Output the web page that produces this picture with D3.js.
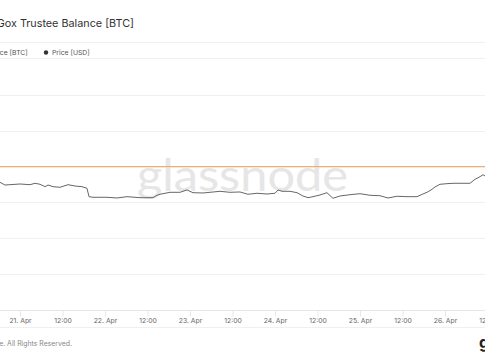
<!DOCTYPE html>
<html lang="en">
<head>
  <meta charset="UTF-8" />
  <title>Mt. Gox Trustee Balance [BTC]</title>
  <script src="https://d3js.org/d3.v7.min.js"></script>
  <style>
    body, html {
      margin: 0;
      padding: 0;
      background: #fff;
    }
    #chart {
      display: block;
      font-family: Inter, "Noto Sans", sans-serif;
    }
  </style>
</head>
<body>
  <svg id="chart" width="485" height="360"></svg>
  <script>
    // Price [USD] (UTC timestamps)
    const priceTimes = [
      '2023-04-20T18:20', '2023-04-20T19:45', '2023-04-20T21:10', '2023-04-21T00:00',
      '2023-04-21T02:50', '2023-04-21T04:15', '2023-04-21T05:40', '2023-04-21T07:05',
      '2023-04-21T07:55', '2023-04-21T09:20', '2023-04-21T11:18', '2023-04-21T13:33',
      '2023-04-21T15:32', '2023-04-21T17:30', '2023-04-21T18:55', '2023-04-21T19:29',
      '2023-04-21T20:37', '2023-04-22T00:34', '2023-04-22T03:23', '2023-04-22T06:12',
      '2023-04-22T09:53', '2023-04-22T13:33', '2023-04-22T14:41', '2023-04-22T15:32',
      '2023-04-22T18:21', '2023-04-22T21:10', '2023-04-22T23:09', '2023-04-23T00:51',
      '2023-04-23T03:40', '2023-04-23T08:28', '2023-04-23T11:17', '2023-04-23T14:07',
      '2023-04-23T16:22', '2023-04-23T18:55', '2023-04-23T21:44', '2023-04-24T00:00',
      '2023-04-24T00:51', '2023-04-24T01:59', '2023-04-24T04:14', '2023-04-24T06:13',
      '2023-04-24T07:54', '2023-04-24T09:19', '2023-04-24T10:44', '2023-04-24T12:42',
      '2023-04-24T14:40', '2023-04-24T16:22', '2023-04-24T18:21', '2023-04-24T21:10',
      '2023-04-25T00:00', '2023-04-25T02:49', '2023-04-25T05:38', '2023-04-25T07:54',
      '2023-04-25T10:26', '2023-04-25T13:16', '2023-04-25T16:05', '2023-04-25T17:47',
      '2023-04-25T18:55', '2023-04-25T20:20', '2023-04-25T21:10', '2023-04-25T22:35',
      '2023-04-26T00:33', '2023-04-26T02:15', '2023-04-26T05:04', '2023-04-26T07:03',
      '2023-04-26T08:28', '2023-04-26T09:53', '2023-04-26T10:44', '2023-04-26T11:18'
    ];
    const priceValues = [
      28562, 28486, 28495, 28514, 28495, 28534, 28506, 28439,
      28486, 28439, 28422, 28495, 28458, 28439, 28394, 28160,
      28143, 28143, 28123, 28160, 28132, 28132, 28199, 28227,
      28282, 28282, 28347, 28271, 28263, 28310, 28282, 28291,
      28227, 28255, 28235, 28255, 28347, 28310, 28310, 28271,
      28179, 28132, 28160, 28207, 28271, 28115, 28179, 28215,
      28243, 28199, 28187, 28123, 28171, 28160, 28160, 28235,
      28282, 28366, 28430, 28506, 28523, 28534, 28534, 28534,
      28646, 28718, 28774, 28738
    ];

    // Mt. Gox Trustee Balance [BTC] - flat over the whole window
    const balanceTimes = [
      '2023-04-20T12:00', '2023-04-21T00:00', '2023-04-22T00:00', '2023-04-23T00:00',
      '2023-04-24T00:00', '2023-04-25T00:00', '2023-04-26T00:00', '2023-04-26T12:00'
    ];
    const balanceValues = [141686, 141686, 141686, 141686, 141686, 141686, 141686, 141686];

    const legendLabels = ['Mt. Gox Trustee Balance [BTC]', 'Price [USD]'];
    const legendColors = ['#f5a45c', '#333'];

    const width = 485, height = 360;
    const plotTop = 95, plotBottom = 309.8;

    const parse = s => new Date(s + ':00Z');
    const price = priceTimes.map((t, i) => ({ date: parse(t), value: priceValues[i] }));
    const balance = balanceTimes.map((t, i) => ({ date: parse(t), value: balanceValues[i] }));

    const svg = d3.select('#chart');

    // Time scale: 21 Apr at x=20, 26 Apr at x=445 (chart is cropped on both sides)
    const x = d3.scaleUtc()
      .domain([parse('2023-04-21T00:00'), parse('2023-04-26T00:00')])
      .range([20, 445]);

    const yPrice = d3.scaleLinear().domain([25000, 31000]).range([plotBottom, plotTop]);
    const yBtc = d3.scaleLinear().domain([141486, 141786]).range([plotBottom, plotTop]);

    // Title (left part cropped)
    svg.append('text')
      .attr('x', 134)
      .attr('y', 27)
      .attr('text-anchor', 'end')
      .attr('font-size', 10.8)
      .attr('fill', '#333')
      .text(legendLabels[0]);

    // Legend band
    svg.append('line').attr('x1', 0).attr('x2', width).attr('y1', 42.5).attr('y2', 42.5)
      .attr('stroke', '#f0f0f0');
    svg.append('line').attr('x1', 0).attr('x2', width).attr('y1', 58.5).attr('y2', 58.5)
      .attr('stroke', '#f0f0f0');

    const legendX = [-80, 43];
    const legend = svg.append('g').selectAll('g')
      .data(legendLabels)
      .enter().append('g')
      .attr('transform', (d, i) => `translate(${legendX[i]},52.5)`);
    legend.append('circle')
      .attr('cx', 3).attr('cy', 0).attr('r', 2.2)
      .attr('fill', (d, i) => legendColors[i]);
    legend.append('text')
      .attr('x', 9).attr('y', 2.4)
      .attr('font-size', 6.8)
      .attr('fill', '#555')
      .text(d => d);

    // Gridlines from the price scale
    svg.append('g').selectAll('line')
      .data(yPrice.ticks(6))
      .enter().append('line')
      .attr('x1', 0).attr('x2', width)
      .attr('y1', d => Math.round(yPrice(d)) + 0.5)
      .attr('y2', d => Math.round(yPrice(d)) + 0.5)
      .attr('stroke', '#f0f0f0');

    // Watermark
    svg.append('text')
      .attr('x', 137)
      .attr('y', 191)
      .attr('font-size', 45)
      .attr('font-family', 'Lato, "Open Sans", sans-serif')
      .attr('font-weight', 400)
      .attr('fill', '#e6e6e6')
      .attr('textLength', 211)
      .attr('lengthAdjust', 'spacingAndGlyphs')
      .text('glassnode');

    // X axis
    const tickDates = d3.utcHour.every(12).range(x.invert(0), x.invert(500));
    const fmtDay = d3.utcFormat('%-d. %b');
    const fmtHour = d3.utcFormat('%H:%M');
    const xAxis = d3.axisBottom(x)
      .tickValues(tickDates)
      .tickSize(6)
      .tickPadding(2)
      .tickFormat(d => d.getUTCHours() === 0 ? fmtDay(d) : fmtHour(d));

    const axisG = svg.append('g')
      .attr('transform', `translate(0,${Math.round(plotBottom) + 0.5})`)
      .call(xAxis);
    axisG.select('.domain').remove();
    axisG.selectAll('.tick line').attr('stroke', '#e6e6e6');
    axisG.selectAll('.tick text')
      .attr('fill', '#666')
      .attr('font-size', 6.8)
      .attr('font-family', 'Inter, sans-serif');

    svg.append('line').attr('x1', 0).attr('x2', width)
      .attr('y1', Math.round(plotBottom) + 0.5).attr('y2', Math.round(plotBottom) + 0.5)
      .attr('stroke', '#e6e6e6');
    svg.append('line').attr('x1', 0).attr('x2', width).attr('y1', 327.5).attr('y2', 327.5)
      .attr('stroke', '#f0f0f0');

    // Series
    svg.append('path')
      .datum(balance)
      .attr('fill', 'none')
      .attr('stroke', legendColors[0])
      .attr('stroke-width', 1)
      .attr('d', d3.line().x(d => x(d.date)).y(d => yBtc(d.value)));

    svg.append('path')
      .datum(price)
      .attr('fill', 'none')
      .attr('stroke', '#666')
      .attr('stroke-width', 1)
      .attr('stroke-linejoin', 'round')
      .attr('d', d3.line().x(d => x(d.date)).y(d => yPrice(d.value)));

    // Footer
    svg.append('text')
      .attr('x', 72)
      .attr('y', 346)
      .attr('text-anchor', 'end')
      .attr('font-size', 6.9)
      .attr('fill', '#888')
      .text('© 2023 Glassnode. All Rights Reserved.');

    svg.append('text')
      .attr('x', 479)
      .attr('y', 348)
      .attr('font-size', 16)
      .attr('font-weight', 700)
      .attr('fill', '#222')
      .text('g');
  </script>
</body>
</html>
